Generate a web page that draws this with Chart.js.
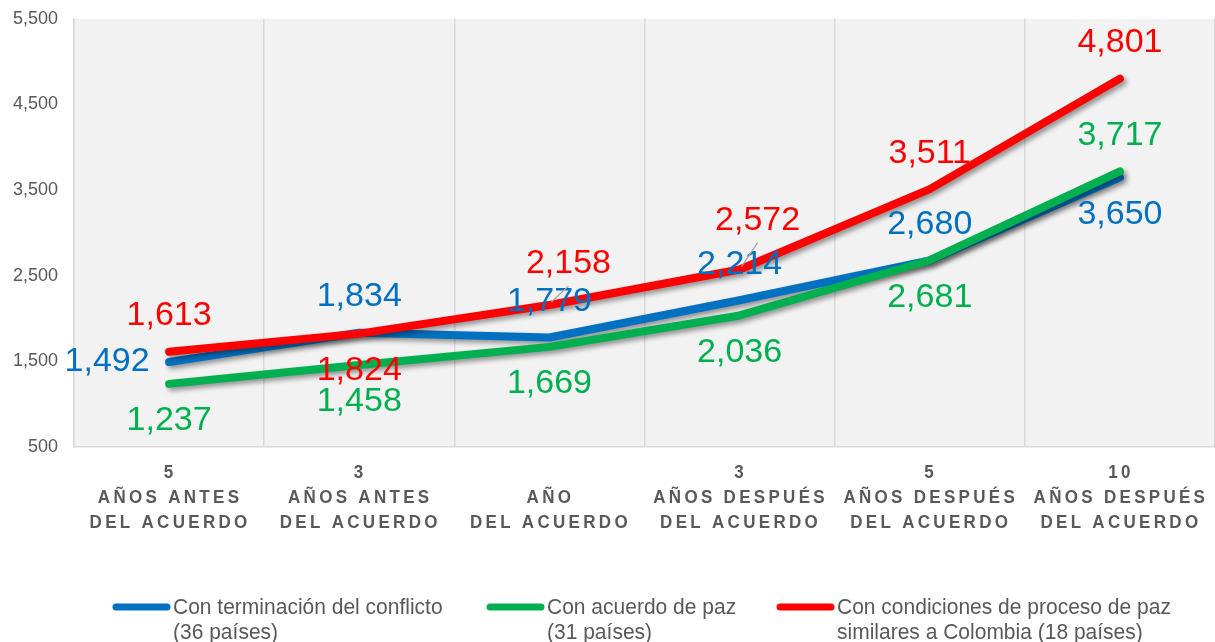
<!DOCTYPE html>
<html>
<head>
<meta charset="utf-8">
<script src="https://cdn.jsdelivr.net/npm/chart.js@4.4.1/dist/chart.umd.min.js"></script>
<style>
  html, body { margin: 0; padding: 0; background: #fff; }
</style>
</head>
<body>
<canvas id="chart" width="1215" height="642"></canvas>
<script>
// categories (multi-line tick labels)
const categories = [
  ["5", "AÑOS ANTES", "DEL ACUERDO"],
  ["3", "AÑOS ANTES", "DEL ACUERDO"],
  ["", "AÑO", "DEL ACUERDO"],
  ["3", "AÑOS DESPUÉS", "DEL ACUERDO"],
  ["5", "AÑOS DESPUÉS", "DEL ACUERDO"],
  ["10", "AÑOS DESPUÉS", "DEL ACUERDO"]
];
const yTicks = [500, 1500, 2500, 3500, 4500, 5500];

const terminacion = [1492, 1834, 1779, 2214, 2680, 3650];
const acuerdo = [1237, 1458, 1669, 2036, 2681, 3717];
const condiciones = [1613, 1824, 2158, 2572, 3511, 4801];

const legendNames = [
  ["Con terminación del conflicto", "(36 países)"],
  ["Con acuerdo de paz", "(31 países)"],
  ["Con condiciones de proceso de paz", "similares a Colombia (18 países)"]
];

// where each value label sits relative to its point
const labelPlace = [
  ["left", "above", "above", "above", "above", "below"],
  ["below", "below", "below", "below", "below", "above"],
  ["above", "below", "leader", "leader2", "above", "above"]
];
const placeOffset = {
  above: [0, -36], below: [0, 37], left: [-62, 0],
  leader: [19, -41], leader2: [18, -49]
};

const FONT = "Arial, 'Liberation Sans', sans-serif";
const GREY = "#595959";

const plotBg = {
  id: "plotBg",
  beforeDraw(chart) {
    const { ctx, chartArea: a } = chart;
    ctx.save();
    ctx.fillStyle = "#f2f2f2";
    ctx.fillRect(a.left, a.top, a.right - a.left, a.bottom - a.top);
    ctx.restore();
  }
};

const lineShadow = {
  id: "lineShadow",
  beforeDatasetDraw(chart) {
    const ctx = chart.ctx;
    ctx.save();
    ctx.shadowColor = "rgba(0,0,0,0.4)";
    ctx.shadowBlur = 5;
    ctx.shadowOffsetX = 3;
    ctx.shadowOffsetY = 3;
  },
  afterDatasetDraw(chart) {
    chart.ctx.restore();
  }
};

const valueLabels = {
  id: "valueLabels",
  afterDatasetsDraw(chart) {
    const ctx = chart.ctx;
    ctx.save();
    ctx.font = "34px " + FONT;
    ctx.textAlign = "center";
    ctx.textBaseline = "middle";
    chart.data.datasets.forEach((ds, i) => {
      const meta = chart.getDatasetMeta(i);
      meta.data.forEach((pt, j) => {
        const place = labelPlace[i][j];
        const [dx, dy] = placeOffset[place];
        if (place.startsWith("leader")) {
          ctx.strokeStyle = "#a6a6a6";
          ctx.lineWidth = 1.2;
          ctx.beginPath();
          ctx.moveTo(pt.x + dx, pt.y + dy + 22);
          ctx.lineTo(pt.x + 2, pt.y - 3);
          ctx.stroke();
        }
        ctx.fillStyle = ds.borderColor;
        ctx.fillText(ds.data[j].toLocaleString("en-US"), pt.x + dx, pt.y + dy);
      });
    });
    ctx.restore();
  }
};

const xLabels = {
  id: "xLabels",
  afterDraw(chart) {
    const ctx = chart.ctx;
    const xs = chart.scales.x;
    ctx.save();
    ctx.font = "bold 17px " + FONT;
    ctx.letterSpacing = "3.3px";
    ctx.fillStyle = GREY;
    ctx.textAlign = "center";
    ctx.textBaseline = "middle";
    categories.forEach((lines, i) => {
      const x = xs.getPixelForValue(i) + 1;
      lines.forEach((t, k) => {
        const y = 473 + k * 25;
        ctx.save();
        ctx.translate(x, y);
        ctx.scale(1, 1.12);
        ctx.fillText(t, 0, 0);
        ctx.restore();
      });
    });
    ctx.restore();
  }
};

const bottomLegend = {
  id: "bottomLegend",
  afterDraw(chart) {
    const ctx = chart.ctx;
    const starts = [113, 487, 777];
    ctx.save();
    ctx.font = "21px " + FONT;
    ctx.textBaseline = "middle";
    ctx.textAlign = "left";
    legendNames.forEach((lines, i) => {
      const ds = chart.data.datasets[i];
      const x0 = starts[i];
      ctx.strokeStyle = ds.borderColor;
      ctx.lineWidth = 7;
      ctx.lineCap = "round";
      ctx.beginPath();
      ctx.moveTo(x0 + 3, 607);
      ctx.lineTo(x0 + 54, 607);
      ctx.stroke();
      ctx.fillStyle = GREY;
      lines.forEach((t, k) => {
        ctx.save();
        ctx.translate(x0 + 60, 608 + k * 25);
        ctx.scale(1, 1.08);
        ctx.fillText(t, 0, 0);
        ctx.restore();
      });
    });
    ctx.restore();
  }
};

new Chart(document.getElementById("chart"), {
  type: "line",
  data: {
    labels: categories.map(c => c.join(" ")),
    datasets: [
      { label: legendNames[0].join(" "), data: terminacion, borderColor: "#0070C0", order: 3 },
      { label: legendNames[1].join(" "), data: acuerdo, borderColor: "#00B050", order: 2 },
      { label: legendNames[2].join(" "), data: condiciones, borderColor: "#FF0000", order: 1 }
    ].map(d => Object.assign(d, {
      borderWidth: 8,
      borderCapStyle: "round",
      borderJoinStyle: "round",
      pointRadius: 0,
      tension: 0,
      fill: false
    }))
  },
  options: {
    responsive: false,
    animation: false,
    devicePixelRatio: 1,
    layout: { padding: { top: 9, right: 0, left: 0, bottom: 0 } },
    plugins: {
      legend: { display: false },
      tooltip: { enabled: false }
    },
    scales: {
      x: {
        offset: true,
        grid: { offset: true, color: "#d9d9d9", lineWidth: 1.5, drawTicks: false },
        border: { color: "#d9d9d9", width: 1.5 },
        ticks: { display: false },
        afterFit(scale) { scale.height = 195; }
      },
      y: {
        min: 500,
        max: 5500,
        afterBuildTicks(scale) { scale.ticks = yTicks.map(v => ({ value: v })); },
        grid: { display: false },
        border: { display: true, color: "#d9d9d9", width: 1.5 },
        ticks: {
          color: GREY,
          font: { family: FONT, size: 18 },
          padding: 8,
          callback: v => v.toLocaleString("en-US")
        },
        afterFit(scale) { scale.width = 74; }
      }
    }
  },
  plugins: [plotBg, lineShadow, valueLabels, xLabels, bottomLegend]
});
</script>
</body>
</html>
